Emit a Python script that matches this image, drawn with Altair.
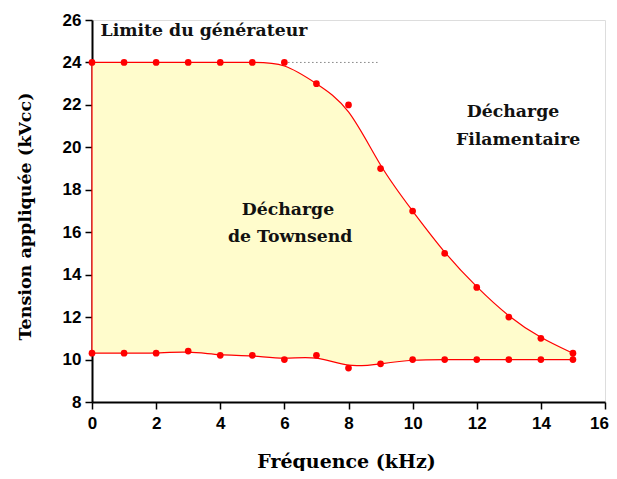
import altair as alt
import pandas as pd

# ---- data ----
freq = list(range(16))
upper = [24, 24, 24, 24, 24, 24, 24, 23, 22, 19, 17, 15, 13.4, 12, 11, 10.3]
lower = [10.3, 10.3, 10.3, 10.4, 10.2, 10.2, 10.0, 10.2, 9.6, 9.8, 10.0, 10.0, 10.0, 10.0, 10.0, 10.0]

limit_x = [6, 8.9]
limit_y = 24

ann_text = ["Limite du générateur", "Décharge", "Filamentaire", "Décharge", "de Townsend"]
ann_x = [3.49, 13.13, 13.29, 6.11, 6.18]
ann_y = [25.5, 21.67, 20.35, 17.05, 15.78]

x_ticks = list(range(0, 17))
y_ticks = list(range(8, 27))

df = pd.DataFrame({"f": freq, "up": upper, "lo": lower})
ends = df[df["f"].isin([freq[0], freq[-1]])]
lim = pd.DataFrame({"x": [limit_x[0]], "x2": [limit_x[1]], "y": [limit_y]})
ann = pd.DataFrame({"t": ann_text, "x": ann_x, "y": ann_y})

RED = "#ff0000"
xs = alt.Scale(domain=[0, 16], nice=False)
ys = alt.Scale(domain=[8, 26], nice=False)

label_font = "Liberation Sans"
title_font = "DejaVu Serif"

minor_size = {"condition": {"test": "datum.value % 2 != 0", "value": 4}, "value": 7}
last_shift = {"condition": {"test": "datum.value == 16", "value": -6}, "value": 0}

x_axis = alt.Axis(values=x_ticks, tickSize=minor_size, tickWidth=1.5, tickColor="black",
                  domainColor="black", domainWidth=2, grid=False,
                  labelExpr="datum.value % 2 != 0 ? '' : datum.label",
                  labelOffset=last_shift,
                  labelFont=label_font, labelFontSize=17, labelFontWeight="bold",
                  labelColor="black", labelPadding=6, labelFlush=False,
                  title="Fréquence (kHz)", titleFont=title_font, titleFontSize=19,
                  titleFontWeight="bold", titleColor="black",
                  titleX=254, titleY=65, titleBaseline="alphabetic", titleAlign="center")
y_axis = alt.Axis(values=y_ticks, tickSize=minor_size, tickWidth=1.5, tickColor="black",
                  domainColor="black", domainWidth=2, grid=False,
                  labelExpr="datum.value % 2 != 0 ? '' : datum.label",
                  labelFont=label_font, labelFontSize=17, labelFontWeight="bold",
                  labelColor="black", labelPadding=4, labelFlush=False,
                  title="Tension appliquée (kVcc)", titleFont=title_font, titleFontSize=17.5,
                  titleFontWeight="bold", titleColor="black", titleAngle=-90,
                  titleX=-67, titleY=196, titleBaseline="middle", titleAlign="center")

base = alt.Chart(df)

area = base.mark_area(interpolate="basis", color="#fffccc", opacity=1).encode(
    x=alt.X("f:Q", scale=xs, axis=x_axis),
    y=alt.Y("up:Q", scale=ys, axis=y_axis),
    y2="lo:Q",
)
line_up = base.mark_line(interpolate="basis", color=RED, strokeWidth=1.2).encode(
    x=alt.X("f:Q", scale=xs), y=alt.Y("up:Q", scale=ys))
line_lo = base.mark_line(interpolate="basis", color=RED, strokeWidth=1.2).encode(
    x=alt.X("f:Q", scale=xs), y=alt.Y("lo:Q", scale=ys))
edges = alt.Chart(ends).mark_rule(color=RED, strokeWidth=1.2).encode(
    x=alt.X("f:Q", scale=xs), y=alt.Y("lo:Q", scale=ys), y2="up:Q")
pts_up = base.mark_circle(color=RED, size=45, opacity=1).encode(
    x=alt.X("f:Q", scale=xs), y=alt.Y("up:Q", scale=ys))
pts_lo = base.mark_circle(color=RED, size=45, opacity=1).encode(
    x=alt.X("f:Q", scale=xs), y=alt.Y("lo:Q", scale=ys))
limit = alt.Chart(lim).mark_rule(color="#444444", strokeDash=[1, 3], strokeWidth=1).encode(
    x=alt.X("x:Q", scale=xs), x2="x2:Q", y=alt.Y("y:Q", scale=ys))
texts = alt.Chart(ann).mark_text(font=title_font, fontSize=17.3, fontWeight="bold",
                                 color="#111111", align="center", baseline="middle").encode(
    x=alt.X("x:Q", scale=xs), y=alt.Y("y:Q", scale=ys), text="t:N")

chart = alt.layer(area, limit, line_up, line_lo, edges, pts_up, pts_lo, texts).properties(
    width=513, height=382,
    autosize=alt.AutoSizeParams(type="none"),
    padding={"left": 84, "top": 12, "right": 4, "bottom": 69},
).configure_view(stroke=None).configure(background="white")

chart.save("out.html", embed_options={"renderer": "svg", "actions": False})
